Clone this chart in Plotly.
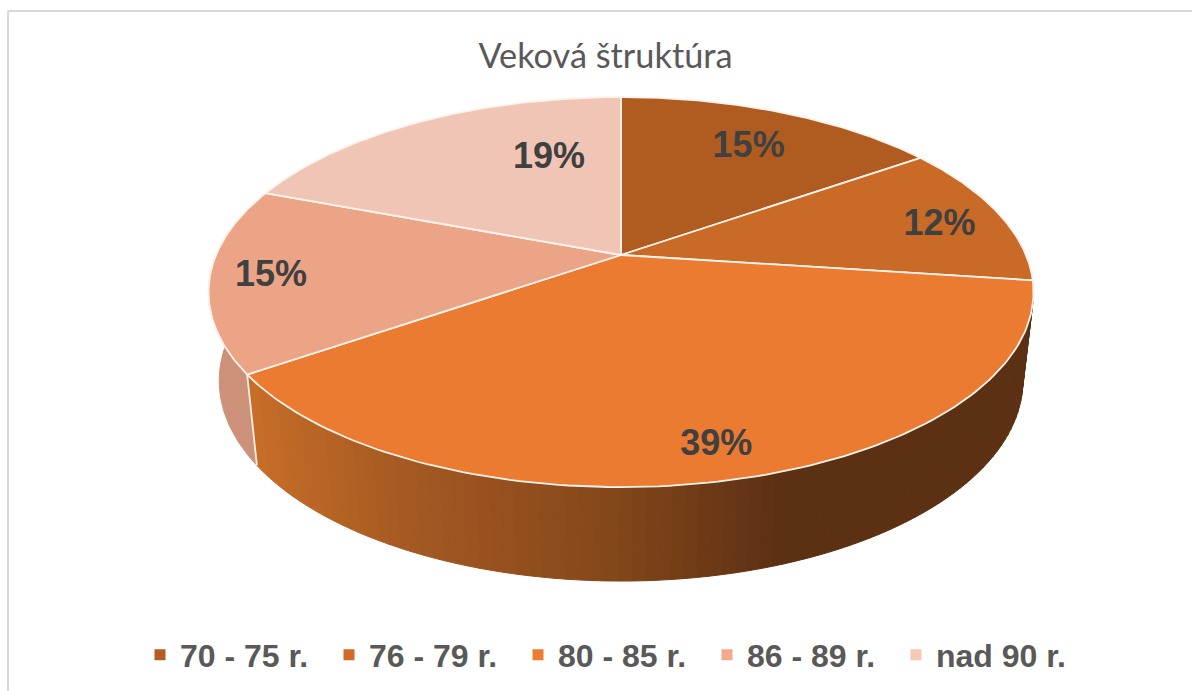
import math
import plotly.graph_objects as go

# ---- data ----
categories = ["70 - 75 r.", "76 - 79 r.", "80 - 85 r.", "86 - 89 r.", "nad 90 r."]
values = [15.3, 11.8, 39.4, 14.7, 18.8]

# ---- style ----
TOP_COLORS = ["#b05c20", "#c96a27", "#ea7b30", "#eca486", "#f1c5b5"]
LEGEND_COLORS = ["#b55d22", "#d26b2a", "#ed7d31", "#f4a98a", "#f6c8b8"]
SIDE_FLAT = "#cd9078"
# (pixel x on axis, rgb) stops of the side shading
GRAD = [(250, (200, 110, 40)), (400, (166, 90, 34)), (610, (132, 71, 26)), (780, (92, 48, 19)), (1100, (92, 48, 19))]
TEXT = "#595959"
LABEL_TEXT = "#404040"
# (fraction along slice, radial factor) per label
LABEL_PLACE = [(0.5, 0.77), (0.5, 0.84), (0.5, 0.85), (0.53, 0.855), (0.74, 0.64)]
LABEL_DY = 7

# ---- projection of the pie plane ----
CX, CY, A, B, K = 621, 255, 405, 188, 0.19
SX, SY, DY = 0.974, 1.027, 87.7
# small angular correction of the drawing's perspective: (turn fraction, shift in turns)
WARP = [(0.0, 0.0), (0.271, 0.0), (0.665, -0.011), (0.812, -0.005), (1.0, 0.0)]


def warp(theta):
    f = theta / (2 * math.pi)
    for (f0, s0), (f1, s1) in zip(WARP, WARP[1:]):
        if f <= f1:
            return theta + (s0 + (s1 - s0) * (f - f0) / (f1 - f0)) * 2 * math.pi
    return theta


def top(theta, r=1.0):
    theta = warp(theta)
    u, v = r * math.sin(theta), r * math.cos(theta)
    d = 1 + K * v
    return CX + A * u / d, CY - B * v / d


def bottom(theta):
    x, y = top(theta)
    return CX + (x - CX) * SX, CY + (y - CY) * SY + DY


def grad(x):
    for (x0, c0), (x1, c1) in zip(GRAD, GRAD[1:]):
        if x <= x1:
            t = max(0, (x - x0) / (x1 - x0))
            return "rgb(%d,%d,%d)" % tuple(round(a + (b - a) * t) for a, b in zip(c0, c1))
    return "rgb(%d,%d,%d)" % GRAD[-1][1]


total = sum(values)
edges = [0.0]
for val in values:
    edges.append(edges[-1] + val / total * 2 * math.pi)

fig = go.Figure()
common = dict(mode="lines", hoverinfo="skip", showlegend=False)

# side of slice 3: shaded strips
a0, a1 = edges[2], edges[3]
N = 90
for i in range(N):
    t0 = a0 + (a1 - a0) * i / N
    t1 = a0 + (a1 - a0) * (i + 1) / N
    p = [top(t0), top(t1), bottom(t1), bottom(t0), top(t0)]
    col = grad(sum(q[0] for q in p[:4]) / 4)
    fig.add_trace(go.Scatter(x=[q[0] for q in p], y=[q[1] for q in p], fill="toself",
                             fillcolor=col, line=dict(color=col, width=1), **common))

# side of slice 4 (visible front part)
a0 = edges[3]
a1 = edges[3] + math.radians(40)
ts = [a0 + (a1 - a0) * i / 40 for i in range(41)]
pts = [top(t) for t in ts] + [bottom(t) for t in reversed(ts)]
fig.add_trace(go.Scatter(x=[q[0] for q in pts], y=[q[1] for q in pts], fill="toself",
                         fillcolor=SIDE_FLAT, line=dict(color=SIDE_FLAT, width=1), **common))

# separator between the two sides
p0, p1 = top(edges[3]), bottom(edges[3])
fig.add_trace(go.Scatter(x=[p0[0], p1[0]], y=[p0[1], p1[1]], line=dict(color="#fbeee6", width=1.8), **common))

# top faces
for i, col in enumerate(TOP_COLORS):
    n = 120
    ts = [edges[i] + (edges[i + 1] - edges[i]) * j / n for j in range(n + 1)]
    pts = [(CX, CY)] + [top(t) for t in ts] + [(CX, CY)]
    fig.add_trace(go.Scatter(x=[q[0] for q in pts], y=[q[1] for q in pts], fill="toself",
                             fillcolor=col, line=dict(color="#fdf3ec", width=1.8), **common))

# percent labels
lx, ly, lt = [], [], []
for i, val in enumerate(values):
    frac, r = LABEL_PLACE[i]
    x, y = top(edges[i] + (edges[i + 1] - edges[i]) * frac, r)
    lx.append(x)
    ly.append(y + LABEL_DY)
    lt.append(f"{round(val / total * 100)}%")
fig.add_trace(go.Scatter(x=lx, y=ly, text=lt, mode="text", hoverinfo="skip", showlegend=False,
                         textposition="middle center",
                         textfont=dict(family="Liberation Sans", size=36, color=LABEL_TEXT, weight="bold")))

# legend entries
for name, col in zip(categories, LEGEND_COLORS):
    fig.add_trace(go.Scatter(x=[None], y=[None], mode="markers", name=name,
                             marker=dict(symbol="square", size=11, color=col)))

fig.update_layout(
    width=1192, height=691, autosize=False,
    margin=dict(l=0, r=0, t=0, b=0),
    paper_bgcolor="white", plot_bgcolor="white",
    xaxis=dict(range=[0, 1192], visible=False, fixedrange=True),
    yaxis=dict(range=[691, 0], visible=False, fixedrange=True),
    title=dict(text="Veková štruktúra", x=605.5 / 1192, xanchor="center", y=1 - 56 / 691, yanchor="middle",
               font=dict(family="Lato", size=34.3, color=TEXT)),
    legend=dict(orientation="h", x=140 / 1192, xanchor="left", y=1 - 655 / 691, yanchor="middle",
                entrywidth=144, entrywidthmode="pixels", itemwidth=30, traceorder="normal",
                font=dict(family="Liberation Sans", size=32, color=TEXT, weight="bold"),
                bgcolor="rgba(0,0,0,0)"),
    shapes=[
        dict(type="line", xref="x", yref="y", x0=8, x1=1192, y0=11, y1=11, line=dict(color="#d9d9d9", width=2)),
        dict(type="line", xref="x", yref="y", x0=8, x1=8, y0=11, y1=691, line=dict(color="#d9d9d9", width=2)),
    ],
)
fig.write_html("out.html", config={"displayModeBar": False},
               post_script="document.body.style.margin='0';document.body.style.overflow='hidden';")
